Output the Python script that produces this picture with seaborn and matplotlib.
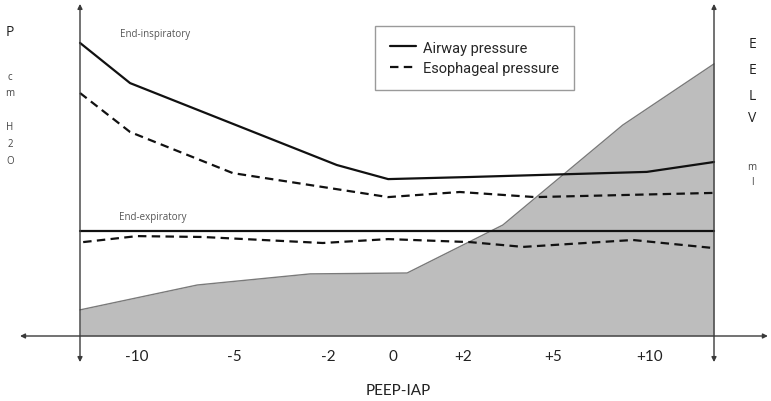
import numpy as np
import pandas as pd
import matplotlib
matplotlib.use("Agg")
import matplotlib.pyplot as plt
import seaborn as sns

# ---------------- data (schematic units: x 0..100 between the two vertical axes) -------------
tick_labels = ["-10", "-5", "-2", "0", "+2", "+5", "+10"]
tick_pos = [9.0, 24.4, 39.1, 49.4, 60.4, 74.6, 89.9]

airway_x = [0, 7.9, 40.5, 48.6, 61.5, 89.4, 100]
airway_y = [97.7, 84.3, 57.0, 52.3, 53.0, 54.7, 58.0]

esoph_x = [0, 7.9, 24.1, 48.6, 59.9, 71.8, 100]
esoph_y = [81.0, 68.0, 54.3, 46.3, 48.0, 46.3, 47.7]

endexp_air_x = [0, 100]
endexp_air_y = [35.0, 35.0]

endexp_eso_x = [0.5, 9.0, 19.4, 38.3, 48.6, 61.5, 69.9, 87.2, 100]
endexp_eso_y = [31.3, 33.3, 33.0, 31.0, 32.3, 31.3, 29.7, 32.0, 29.3]

eelv_x = [0, 18.5, 36.3, 51.6, 66.7, 85.6, 100]
eelv_y = [8.7, 17.0, 20.7, 21.0, 37.0, 70.3, 90.7]

# ---------------- figure ----------------
sns.set_theme(style="white")
plt.rcParams['font.family'] = ['Lato', 'DejaVu Sans']

W, H = 771, 402
fig = plt.figure(figsize=(W / 100, H / 100), dpi=100)
ax = fig.add_axes([0, 0, 1, 1])
ax.set_xlim(-12.618, 108.99)
ax.set_ylim(-21.667, 112.333)
ax.axis("off")

def fpx(x, y):
    return x / W, 1 - y / H

# EELV shaded area
ax.fill_between(eelv_x, 0, eelv_y, color="#bdbdbd", lw=0, zorder=1)
sns.lineplot(x=eelv_x, y=eelv_y, ax=ax, color="#7a7a7a", lw=1.0, sort=False,
             estimator=None, zorder=2)

line_col = "#111111"
dash = (3.8, 2.4)
df_air = pd.DataFrame({"x": airway_x, "y": airway_y})
df_eso = pd.DataFrame({"x": esoph_x, "y": esoph_y})
sns.lineplot(data=df_air, x="x", y="y", ax=ax, color=line_col, lw=1.6, sort=False,
             estimator=None, zorder=4, label="Airway pressure")
sns.lineplot(data=df_eso, x="x", y="y", ax=ax, color=line_col, lw=1.6, sort=False,
             estimator=None, zorder=4, dashes=False, label="Esophageal pressure",
             linestyle=(0, dash))
sns.lineplot(x=endexp_air_x, y=endexp_air_y, ax=ax, color=line_col, lw=1.6,
             sort=False, estimator=None, zorder=4)
sns.lineplot(x=endexp_eso_x, y=endexp_eso_y, ax=ax, color=line_col, lw=1.6,
             sort=False, estimator=None, zorder=4, linestyle=(0, dash))

# axes with arrows
ax_col = "#3a3a3a"
arr = dict(arrowstyle="<|-|>", color=ax_col, lw=1.0, mutation_scale=7,
           shrinkA=0, shrinkB=0)
ax.annotate("", xy=(108.5, 0), xytext=(-9.46, 0), arrowprops=arr, zorder=5)
ax.annotate("", xy=(0, 110.7), xytext=(0, -8.7), arrowprops=arr, zorder=5)
ax.annotate("", xy=(100, 110.7), xytext=(100, -8.7), arrowprops=arr, zorder=5)

# tick labels
for p, lab in zip(tick_pos, tick_labels):
    ax.text(p, -6.67, lab, ha="center", va="center", fontsize=11, color="#222222")

fig.text(*fpx(398, 391), "PEEP-IAP", ha="center", va="center", fontsize=11,
         color="#222222")

# annotations
fig.text(*fpx(120, 34), "End-inspiratory", ha="left", va="center", fontsize=7,
         color="#555555", family=["Open Sans", "DejaVu Sans"])
fig.text(*fpx(119, 218), "End-expiratory", ha="left", va="center", fontsize=7,
         color="#555555", family=["Open Sans", "DejaVu Sans"])

# left label
fig.text(*fpx(10, 32), "P", ha="center", va="center", fontsize=10, color="#222222",
         family=["Open Sans", "DejaVu Sans"])
for ch, yy in zip(["c", "m", "H", "2", "O"], [77, 93, 128, 145, 162]):
    fig.text(*fpx(10, yy), ch, ha="center", va="center", fontsize=7, color="#444444",
             family=["Open Sans", "DejaVu Sans"])
# right label
for ch, yy in zip(["E", "E", "L", "V"], [45, 70, 96, 118]):
    fig.text(*fpx(752, yy), ch, ha="center", va="center", fontsize=10,
             color="#222222", family=["Open Sans", "DejaVu Sans"])
for ch, yy in zip(["m", "l"], [167, 183]):
    fig.text(*fpx(752, yy), ch, ha="center", va="center", fontsize=7,
             color="#444444", family=["Open Sans", "DejaVu Sans"])

# legend
leg = ax.legend(loc="upper left", bbox_to_anchor=(375 / W, 1 - 27 / H),
                bbox_transform=fig.transFigure, frameon=True, fancybox=False,
                edgecolor="#9a9a9a", framealpha=1, handlelength=1.8,
                handletextpad=0.5, borderpad=1.0, labelspacing=0.45,
                borderaxespad=0,
                prop={"family": ["Roboto", "DejaVu Sans"], "size": 10.5})
leg.get_frame().set_linewidth(1.0)
leg.set_zorder(6)

fig.savefig("out.png", dpi=100)
